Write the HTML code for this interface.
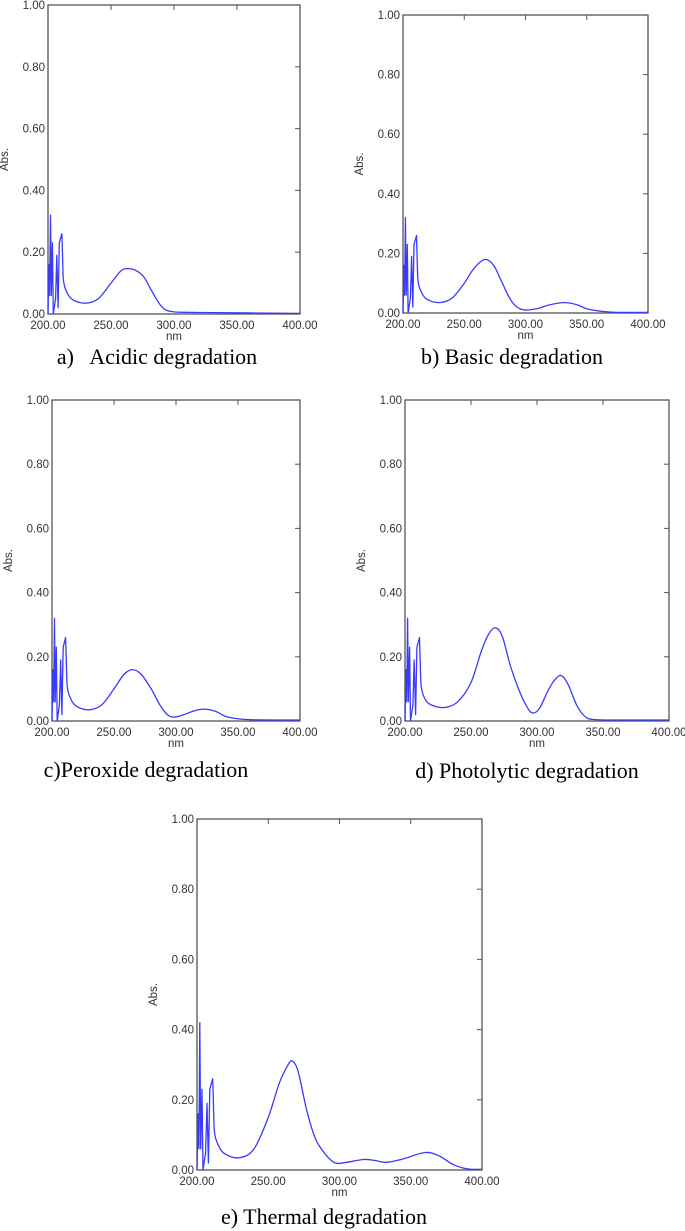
<!DOCTYPE html>
<html><head><meta charset="utf-8"><style>
body{margin:0;background:#fff;width:685px;height:1231px;overflow:hidden}
svg{position:absolute;left:0;top:0}
.cap{font-family:"Liberation Serif",serif;font-size:22px;fill:#000}
.tk{font-family:"Liberation Sans",sans-serif;font-size:11.5px;fill:#333}
</style></head><body>
<svg id="fig" width="685" height="1231"></svg>
<script>
const xTicks=[200,250,300,350,400];
const xTickLabels=["200.00","250.00","300.00","350.00","400.00"];
const yTicks=[0,0.2,0.4,0.6,0.8,1.0];
const yTickLabels=["0.00","0.20","0.40","0.60","0.80","1.00"];
const captions=["a)   Acidic degradation","b) Basic degradation","c)Peroxide degradation","d) Photolytic degradation","e) Thermal degradation"];
const wlA=[200,200.8,201.3,202,202.6,203.5,204.2,206,207,208,209,211,212,215,220,230,240,250,258,264,270,276,283,290,298,320,400];
const absA=[0,0.16,0.06,0.32,0.06,0.23,0,0.05,0.19,0.02,0.23,0.26,0.12,0.07,0.045,0.035,0.05,0.1,0.14,0.147,0.14,0.12,0.07,0.025,0.008,0.005,0.002];
const wlB=[200,200.8,201.3,202,202.6,203.5,204.2,206,207,208,209,211,212,215,220,230,240,250,258,267,274,280,287,293,300,310,320,332,342,352,370,400];
const absB=[0,0.16,0.06,0.32,0.06,0.23,0,0.05,0.19,0.02,0.23,0.26,0.12,0.07,0.045,0.035,0.05,0.1,0.15,0.18,0.16,0.11,0.05,0.02,0.01,0.015,0.028,0.035,0.028,0.012,0.003,0.002];
const wlC=[200,200.8,201.3,202,202.6,203.5,204.2,206,207,208,209,211,212,215,220,230,240,250,258,265,272,280,287,293,298,305,315,323,332,342,360,400];
const absC=[0,0.16,0.06,0.32,0.06,0.23,0,0.05,0.19,0.02,0.23,0.26,0.12,0.07,0.045,0.035,0.05,0.1,0.145,0.16,0.145,0.1,0.05,0.02,0.012,0.018,0.032,0.037,0.03,0.012,0.004,0.003];
const wlD=[200,200.8,201.3,202,202.6,203.5,204.2,206,207,208,209,211,212,215,220,230,240,250,258,264,269,274,280,287,293,297,302,309,315,319,324,330,336,342,355,400];
const absD=[0,0.16,0.06,0.32,0.06,0.23,0,0.05,0.19,0.02,0.23,0.26,0.12,0.07,0.05,0.042,0.06,0.12,0.22,0.275,0.29,0.26,0.17,0.09,0.04,0.025,0.04,0.1,0.135,0.14,0.11,0.05,0.015,0.005,0.003,0.003];
const wlE=[200,200.8,201.3,202,202.6,203.5,204.2,206,207,208,209,211,212,215,220,230,240,250,258,264,267,271,277,283,290,297,305,317,325,333,345,360,370,380,390,400];
const absE=[0,0.16,0.06,0.42,0.06,0.23,0,0.05,0.19,0.02,0.23,0.26,0.12,0.07,0.045,0.035,0.06,0.15,0.25,0.3,0.31,0.28,0.17,0.09,0.045,0.02,0.022,0.03,0.027,0.022,0.032,0.05,0.04,0.015,0.003,0.002];
const panels=[
 {L:48,R:300,T:5,B:314,cx:157,cy:364,wl:wlA,ab:absA,n:"acidic"},
 {L:403,R:648,T:15,B:313,cx:512,cy:364,wl:wlB,ab:absB,n:"basic"},
 {L:52,R:300,T:400,B:721,cx:146,cy:777,wl:wlC,ab:absC,n:"peroxide"},
 {L:405,R:669,T:400,B:721,cx:527,cy:778,wl:wlD,ab:absD,n:"photolytic"},
 {L:197,R:482,T:819,B:1170,cx:324,cy:1224,wl:wlE,ab:absE,n:"thermal"}];
const NS="http://www.w3.org/2000/svg";
const svg=document.getElementById('fig');
function mk(tag,attrs,parent){const e=document.createElementNS(NS,tag);for(const k in attrs)e.setAttribute(k,attrs[k]);parent.appendChild(e);return e;}
panels.forEach((p,i)=>{
 const g=mk('g',{},svg);
 
 
 const xs=v=>p.L+(v-200)/200*(p.R-p.L);
 const ys=v=>p.B-v*(p.B-p.T);
 const box=mk('rect',{x:p.L,y:p.T,width:p.R-p.L,height:p.B-p.T,fill:'none',stroke:'#555','stroke-width':1.3},g);
 
 
 yTicks.forEach((t,j)=>{
  mk('line',{x1:p.R-5,x2:p.R,y1:ys(t),y2:ys(t),stroke:'#555'},g);
  const tx=mk('text',{x:p.L-3,y:ys(t)+4,'text-anchor':'end',class:'tk'},g);
  tx.textContent=yTickLabels[j];
  
  
 });
 xTicks.forEach((t,j)=>{
  mk('line',{x1:xs(t),x2:xs(t),y1:p.T,y2:p.T+5,stroke:'#555'},g);
  const tx=mk('text',{x:xs(t),y:p.B+15,'text-anchor':'middle',class:'tk'},g);
  tx.textContent=xTickLabels[j];
  
  
 });
 const xt=mk('text',{x:(p.L+p.R)/2,y:p.B+26,'text-anchor':'middle',class:'tk','font-size':'10'},g);
 xt.textContent='nm';
 
 
 const ym=(p.T+p.B)/2;
 const yt=mk('text',{x:p.L-40,y:ym,'text-anchor':'middle',class:'tk','font-size':'10',transform:`rotate(-90 ${p.L-40} ${ym})`},g);
 yt.textContent='Abs.';
 
 
 const P=p.wl.map((w,k)=>[xs(w),ys(p.ab[k])]);
 let d='M'+P[0][0].toFixed(1)+' '+P[0][1].toFixed(1)+' ';
 for(let k=1;k<P.length;k++){
  if(k<13){d+='L'+P[k][0].toFixed(1)+' '+P[k][1].toFixed(1)+' ';continue;}
  const p0=P[k-2]||P[k-1],p1=P[k-1],p2=P[k],p3=P[k+1]||P[k];
  const c1x=p1[0]+(p2[0]-p0[0])/6,c1y=p1[1]+(p2[1]-p0[1])/6;
  const c2x=p2[0]-(p3[0]-p1[0])/6,c2y=p2[1]-(p3[1]-p1[1])/6;
  d+=`C${c1x.toFixed(1)} ${c1y.toFixed(1)} ${c2x.toFixed(1)} ${c2y.toFixed(1)} ${p2[0].toFixed(1)} ${p2[1].toFixed(1)} `;
 }
 const path=mk('path',{d:d,fill:'none',stroke:'#3a3aff','stroke-width':1.3,'stroke-linejoin':'round'},g);
 
 
 const c=mk('text',{x:p.cx,y:p.cy,'text-anchor':'middle',class:'cap'},g);
 c.textContent=captions[i];
 
 
 c.setAttribute('xml:space','preserve');
 c.style.whiteSpace='pre';
});
</script>
</body></html>
